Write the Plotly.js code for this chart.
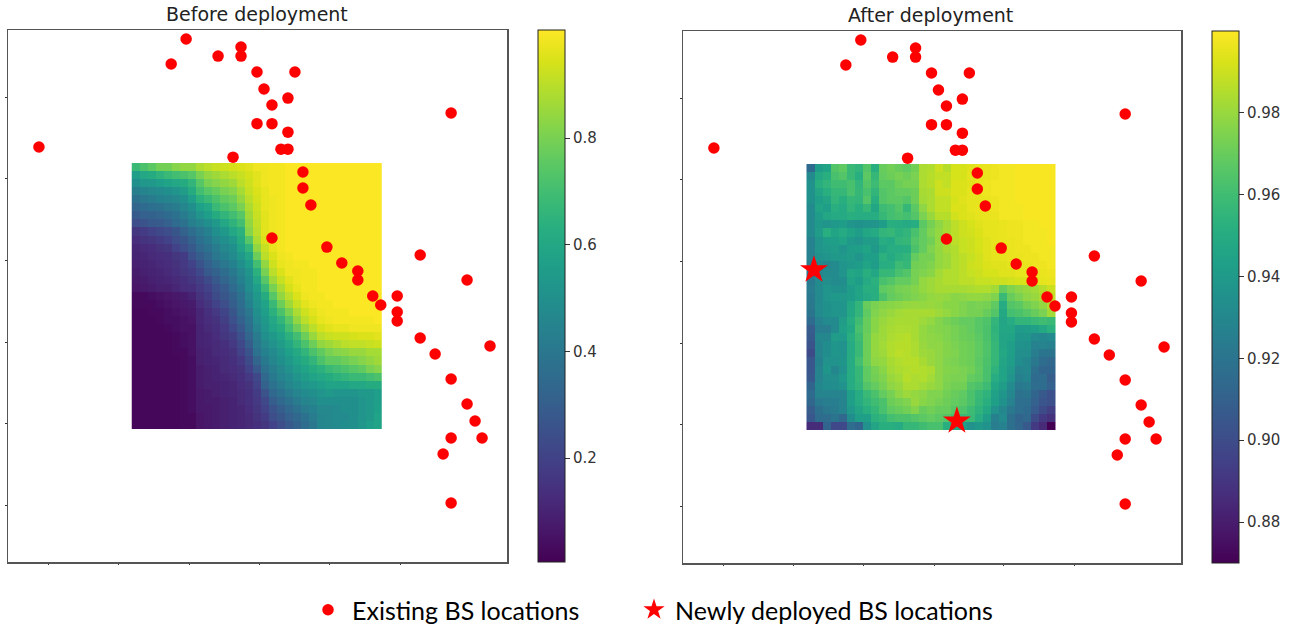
<!DOCTYPE html>
<html><head><meta charset="utf-8">
<script src="https://cdn.plot.ly/plotly-3.0.1.min.js"></script>
<style>html,body{margin:0;padding:0;background:#fff}#c{width:1302px;height:629px}</style></head>
<body><div id="c"></div>
<script>
const bsX=[62,357,327,421,467,467,499,575,513,529,561,499,529,561,547,561,451,888,591,591,607,529,639,669,701,701,731,747,780,780,780,826,920,826,856,966,888,920,936,950,888,872,888];
const bsY=[780,983,936,951,968,951,921,921,889,859,872,824,824,808,776,776,761,844,733,703,671,609,592,562,547,530,500,483,500,470,453,577,530,421,391,406,344,297,265,233,233,203,111];
const newX=[263,550];
const newY=[551,267];
const before=[
[.68,.72,.75,.79,.79,.82,.84,.84,.88,.90,.92,.93,.94,.95,.96,.98,.98,.99,.99,1,1,1,1,1,1,1,1,1,1,1,1],
[.56,.60,.62,.65,.68,.70,.72,.74,.80,.84,.86,.88,.90,.92,.94,.96,.98,.99,.99,1,1,1,1,1,1,1,1,1,1,1,1],
[.50,.53,.54,.56,.58,.60,.62,.66,.74,.80,.82,.84,.86,.90,.93,.96,.98,.99,.99,1,1,1,1,1,1,1,1,1,1,1,1],
[.43,.45,.47,.48,.50,.52,.55,.62,.70,.74,.77,.80,.82,.87,.92,.95,.97,.99,.99,1,1,1,1,1,1,1,1,1,1,1,1],
[.38,.40,.42,.44,.45,.47,.50,.56,.64,.68,.72,.76,.78,.84,.90,.94,.97,.98,.99,1,1,1,1,1,1,1,1,1,1,1,1],
[.33,.35,.37,.38,.40,.42,.46,.50,.57,.60,.68,.72,.75,.80,.88,.93,.97,.98,.99,1,1,1,1,1,1,1,1,1,1,1,1],
[.28,.31,.32,.33,.35,.38,.42,.46,.52,.56,.62,.66,.70,.74,.86,.92,.96,.98,.99,1,1,1,1,1,1,1,1,1,1,1,1],
[.24,.26,.28,.29,.31,.35,.38,.43,.46,.50,.54,.60,.65,.70,.84,.91,.96,.98,.99,1,1,1,1,1,1,1,1,1,1,1,1],
[.16,.18,.20,.22,.24,.27,.32,.36,.40,.44,.50,.54,.60,.64,.82,.90,.96,.98,.99,1,1,1,1,1,1,1,1,1,1,1,1],
[.13,.15,.16,.18,.20,.24,.27,.32,.37,.41,.46,.50,.54,.62,.74,.88,.95,.98,.99,1,1,1,1,1,1,1,1,1,1,1,1],
[.11,.12,.13,.15,.16,.20,.24,.28,.34,.38,.42,.47,.50,.58,.66,.84,.92,.97,.99,1,1,1,1,1,1,1,1,1,1,1,1],
[.10,.11,.12,.13,.14,.16,.18,.25,.30,.34,.40,.44,.48,.54,.60,.78,.90,.95,.98,.99,1,1,1,1,1,1,1,1,1,1,1],
[.09,.10,.11,.12,.13,.15,.17,.20,.26,.31,.36,.40,.44,.50,.56,.70,.84,.93,.97,.98,.99,.99,1,1,1,1,1,1,1,1,1],
[.08,.09,.10,.11,.12,.14,.16,.18,.22,.28,.32,.36,.41,.46,.52,.64,.80,.90,.95,.98,.98,.99,.99,1,1,1,1,1,1,1,1],
[.07,.08,.09,.10,.11,.12,.14,.16,.19,.23,.28,.33,.38,.44,.50,.60,.74,.86,.92,.96,.98,.99,.99,1,1,1,1,1,1,1,1],
[.06,.07,.08,.09,.09,.11,.13,.14,.17,.20,.25,.29,.35,.41,.49,.56,.68,.80,.88,.94,.97,.99,.99,1,1,1,1,1,1,1,1],
[.03,.03,.04,.05,.06,.07,.08,.10,.15,.18,.23,.27,.32,.38,.46,.54,.62,.74,.84,.90,.95,.98,.99,.99,1,1,1,1,1,1,1],
[.03,.03,.03,.04,.05,.06,.07,.08,.13,.16,.20,.24,.30,.36,.44,.52,.58,.68,.78,.86,.92,.96,.98,.99,.99,1,1,1,1,1,1],
[.02,.02,.03,.03,.04,.05,.06,.07,.11,.14,.17,.21,.27,.34,.40,.50,.56,.64,.72,.80,.88,.93,.96,.98,.99,.99,.99,1,1,1,1],
[.02,.02,.02,.03,.04,.04,.05,.06,.11,.13,.15,.19,.25,.31,.38,.48,.54,.60,.66,.74,.84,.90,.94,.97,.98,.99,.99,.99,.99,.99,1],
[.02,.02,.02,.02,.03,.04,.05,.05,.10,.12,.14,.17,.22,.28,.36,.45,.52,.58,.62,.70,.78,.85,.90,.94,.96,.97,.97,.98,.98,.98,.98],
[.02,.02,.02,.02,.02,.03,.04,.05,.10,.11,.13,.16,.19,.25,.33,.42,.50,.54,.58,.64,.70,.78,.85,.90,.92,.93,.93,.94,.95,.95,.96],
[.02,.02,.02,.02,.02,.03,.04,.05,.10,.11,.12,.14,.17,.22,.30,.40,.47,.51,.55,.60,.66,.72,.78,.84,.86,.88,.90,.91,.91,.92,.93],
[.02,.02,.02,.02,.02,.03,.03,.05,.09,.10,.12,.13,.15,.20,.26,.38,.44,.48,.52,.57,.61,.66,.72,.76,.80,.82,.83,.85,.85,.87,.87],
[.02,.02,.02,.02,.02,.02,.03,.04,.09,.10,.11,.12,.14,.17,.23,.33,.41,.46,.50,.54,.58,.62,.66,.72,.76,.76,.78,.80,.82,.84,.86],
[.02,.02,.02,.02,.02,.02,.03,.04,.08,.09,.10,.12,.13,.15,.20,.28,.38,.43,.47,.51,.55,.58,.62,.64,.68,.70,.72,.74,.76,.80,.82],
[.02,.02,.02,.02,.02,.02,.03,.04,.08,.09,.10,.11,.12,.14,.17,.22,.34,.41,.45,.48,.52,.55,.58,.60,.62,.64,.66,.68,.68,.70,.72],
[.02,.02,.02,.02,.02,.02,.03,.04,.08,.09,.09,.10,.11,.13,.15,.20,.32,.38,.42,.46,.49,.52,.54,.56,.58,.58,.58,.60,.60,.62,.62],
[.02,.02,.02,.02,.02,.02,.03,.04,.07,.08,.09,.10,.11,.12,.14,.18,.26,.34,.38,.42,.45,.48,.50,.52,.54,.52,.52,.52,.54,.54,.56],
[.02,.02,.02,.02,.02,.02,.03,.04,.07,.08,.08,.09,.10,.12,.14,.17,.22,.30,.34,.38,.42,.45,.47,.50,.50,.50,.50,.50,.52,.54,.56],
[.02,.02,.02,.02,.02,.02,.03,.04,.07,.07,.08,.09,.10,.11,.13,.16,.20,.26,.30,.34,.38,.42,.44,.47,.47,.48,.50,.50,.52,.54,.57],
[.02,.02,.02,.02,.02,.02,.03,.03,.06,.07,.08,.09,.10,.11,.12,.15,.18,.24,.27,.31,.34,.38,.42,.46,.47,.48,.48,.50,.52,.54,.58],
[.02,.02,.02,.02,.02,.02,.03,.03,.06,.07,.08,.09,.10,.11,.12,.14,.16,.20,.24,.28,.32,.36,.40,.46,.47,.48,.49,.50,.53,.56,.58]
];
const after=[
[.915,.942,.945,.965,.968,.958,.955,.965,.952,.970,.972,.970,.968,.972,.984,.985,.990,.986,.992,.992,.994,.995,.996,.997,.998,.998,.999,.999,.999,.999,.999],
[.932,.948,.952,.962,.965,.958,.952,.967,.957,.969,.971,.973,.971,.974,.984,.986,.988,.988,.992,.992,.995,.995,.996,.997,.998,.998,.999,.999,.999,.999,.999],
[.935,.952,.955,.960,.960,.962,.955,.965,.959,.967,.967,.971,.973,.973,.984,.986,.990,.988,.993,.993,.994,.996,.997,.998,.998,.998,.999,.999,.999,.999,.999],
[.935,.946,.952,.957,.957,.962,.957,.962,.955,.965,.967,.969,.969,.971,.983,.984,.990,.990,.993,.993,.995,.995,.997,.998,.998,.998,.999,.999,.999,.999,.999],
[.935,.943,.946,.955,.952,.957,.955,.965,.952,.965,.967,.967,.965,.971,.982,.984,.988,.988,.992,.994,.995,.995,.996,.997,.998,.998,.999,.999,.999,.999,.999],
[.932,.945,.943,.952,.949,.955,.952,.957,.947,.959,.961,.965,.957,.967,.978,.984,.988,.988,.993,.993,.995,.996,.996,.997,.998,.998,.998,.999,.999,.999,.999],
[.932,.942,.947,.949,.949,.952,.951,.951,.951,.957,.961,.963,.961,.965,.974,.980,.986,.986,.991,.993,.994,.995,.996,.996,.998,.998,.998,.999,.999,.999,.999],
[.932,.939,.937,.939,.942,.937,.935,.937,.937,.942,.952,.951,.949,.951,.967,.973,.978,.982,.987,.990,.992,.994,.995,.995,.996,.997,.997,.998,.998,.999,.999],
[.932,.941,.952,.945,.949,.945,.942,.947,.949,.955,.957,.953,.955,.962,.969,.975,.979,.983,.987,.990,.991,.993,.995,.995,.996,.997,.997,.998,.998,.998,.999],
[.927,.937,.942,.943,.945,.939,.937,.941,.941,.951,.949,.955,.957,.965,.969,.972,.979,.982,.987,.989,.990,.992,.994,.995,.996,.996,.997,.998,.998,.998,.999],
[.927,.937,.939,.941,.937,.942,.943,.945,.939,.947,.951,.951,.952,.963,.969,.975,.979,.983,.985,.989,.990,.992,.994,.995,.996,.996,.997,.997,.998,.998,.998],
[.927,.935,.937,.939,.939,.941,.937,.943,.943,.953,.949,.953,.955,.969,.973,.973,.979,.981,.985,.987,.989,.991,.994,.995,.995,.996,.996,.997,.997,.998,.998],
[.925,.932,.930,.932,.937,.939,.942,.945,.942,.951,.952,.959,.957,.972,.973,.975,.979,.981,.985,.987,.990,.991,.993,.994,.994,.995,.996,.996,.997,.997,.998],
[.920,.929,.932,.932,.937,.947,.945,.952,.947,.957,.957,.962,.965,.973,.975,.977,.982,.985,.985,.987,.989,.990,.992,.992,.994,.994,.995,.995,.996,.996,.997],
[.923,.932,.934,.932,.933,.945,.942,.949,.953,.962,.965,.969,.969,.973,.979,.981,.983,.985,.985,.987,.987,.989,.989,.990,.990,.991,.992,.993,.994,.995,.996],
[.925,.932,.937,.935,.935,.942,.945,.952,.952,.968,.970,.973,.974,.976,.979,.981,.983,.983,.983,.983,.984,.985,.985,.982,.970,.975,.978,.980,.982,.986,.990],
[.923,.932,.937,.939,.939,.942,.945,.949,.952,.963,.969,.971,.973,.975,.977,.979,.980,.979,.977,.978,.979,.979,.978,.975,.958,.970,.974,.978,.980,.984,.988],
[.922,.932,.935,.937,.937,.947,.955,.970,.974,.976,.977,.978,.979,.980,.979,.980,.979,.977,.977,.975,.973,.974,.973,.968,.950,.965,.967,.972,.975,.979,.985],
[.920,.932,.935,.937,.937,.948,.955,.968,.975,.978,.980,.982,.983,.983,.983,.983,.981,.979,.977,.975,.973,.973,.970,.965,.948,.961,.963,.966,.970,.974,.982],
[.915,.927,.932,.932,.941,.951,.960,.970,.977,.980,.982,.983,.983,.983,.981,.979,.976,.973,.971,.969,.969,.966,.964,.955,.946,.950,.955,.955,.958,.960,.958],
[.908,.925,.925,.932,.944,.948,.962,.970,.977,.981,.983,.984,.984,.983,.979,.977,.976,.975,.973,.971,.969,.966,.963,.954,.947,.947,.940,.942,.944,.948,.953],
[.906,.930,.930,.941,.940,.952,.960,.971,.979,.981,.984,.985,.986,.983,.979,.978,.977,.975,.973,.971,.970,.967,.963,.955,.946,.945,.938,.938,.932,.930,.932],
[.903,.928,.933,.938,.936,.950,.958,.971,.979,.982,.985,.986,.986,.984,.980,.978,.978,.976,.974,.972,.971,.968,.964,.957,.946,.943,.936,.935,.927,.928,.926],
[.900,.928,.933,.938,.936,.950,.958,.971,.979,.981,.985,.987,.986,.984,.981,.980,.978,.976,.975,.972,.971,.968,.964,.957,.948,.943,.934,.934,.925,.920,.920],
[.905,.926,.936,.936,.938,.950,.961,.971,.978,.979,.983,.985,.986,.986,.983,.980,.978,.975,.974,.972,.971,.967,.963,.957,.946,.942,.933,.930,.922,.916,.914],
[.905,.928,.938,.930,.936,.950,.957,.968,.973,.977,.982,.984,.985,.986,.985,.984,.978,.976,.975,.974,.972,.968,.962,.954,.945,.939,.928,.930,.918,.912,.912],
[.906,.928,.934,.934,.939,.950,.957,.968,.972,.975,.980,.982,.986,.984,.985,.982,.978,.975,.974,.974,.969,.967,.962,.951,.945,.937,.926,.929,.915,.916,.908],
[.912,.930,.933,.933,.936,.950,.955,.965,.969,.973,.978,.980,.984,.984,.982,.980,.978,.974,.972,.972,.965,.963,.959,.947,.942,.932,.922,.924,.916,.916,.910],
[.915,.928,.928,.928,.928,.943,.950,.958,.963,.969,.973,.978,.981,.979,.978,.975,.975,.972,.970,.968,.963,.958,.954,.944,.938,.930,.919,.920,.912,.906,.902],
[.913,.923,.925,.925,.928,.943,.950,.955,.960,.963,.971,.973,.975,.980,.977,.975,.973,.971,.969,.967,.963,.957,.952,.943,.935,.927,.917,.917,.910,.904,.902],
[.908,.918,.922,.924,.928,.939,.946,.952,.956,.962,.968,.970,.972,.976,.970,.972,.970,.970,.966,.964,.959,.954,.948,.936,.930,.922,.917,.915,.907,.900,.894],
[.905,.916,.916,.920,.914,.933,.943,.943,.953,.955,.961,.963,.963,.965,.967,.969,.967,.965,.961,.958,.958,.951,.942,.926,.932,.918,.912,.914,.900,.892,.888],
[.886,.886,.912,.898,.898,.916,.912,.936,.946,.952,.952,.950,.957,.957,.960,.962,.962,.952,.947,.942,.936,.939,.936,.925,.927,.918,.913,.906,.892,.885,.870]
];
const ticksBefore=[.2,.4,.6,.8];
const ticksAfter=[.88,.90,.92,.94,.96,.98];
const xTicks=[82,222,363,505,644,786];
const yTicks=[107,261,413,566,720,874];

const W=1302,H=629;
const cbCommon={thickness:27,thicknessmode:'pixels',len:532,lenmode:'pixels',xanchor:'left',yanchor:'middle',xpad:0,ypad:0,
  outlinecolor:'#222',outlinewidth:1,ticks:'outside',ticklen:5,tickwidth:1,tickcolor:'#333',
  tickfont:{family:'DejaVu Sans',size:15,color:'#333'}};
const hm=(z,xa,ya,zmin,zmax,cb)=>({type:'heatmap',z:z,x0:248+250/31,dx:500/31,y0:750-250/33,dy:-500/33,
  xaxis:xa,yaxis:ya,zmin:zmin,zmax:zmax,colorscale:'Viridis',hoverinfo:'skip',colorbar:cb,showlegend:false});
const dots=(xa,ya,show)=>({type:'scatter',mode:'markers',x:bsX,y:bsY,xaxis:xa,yaxis:ya,name:'Existing BS locations',
  showlegend:show,legend:'legend',marker:{color:'#ff0000',size:11.5,symbol:'circle'}});
const data=[
  hm(before,'x','y',.005,1.003,Object.assign({},cbCommon,{x:538/W,y:(H-296)/H,tickmode:'array',tickvals:ticksBefore,ticktext:ticksBefore.map(v=>v.toFixed(1))})),
  hm(after,'x2','y2',.87,1,Object.assign({},cbCommon,{x:1212/W,y:(H-297)/H,tickmode:'array',tickvals:ticksAfter,ticktext:ticksAfter.map(v=>v.toFixed(2))})),
  dots('x','y',true),
  dots('x2','y2',false),
  {type:'scatter',mode:'markers',x:newX,y:newY,xaxis:'x2',yaxis:'y2',name:'Newly deployed BS locations',legend:'legend2',
   marker:{color:'#ff0000',size:21,symbol:'star'}}
];
const ax=(dom,vals,anchor)=>({domain:dom,range:[0,1000],showgrid:false,zeroline:false,showline:true,mirror:true,linecolor:'#555',linewidth:1.5,
  ticks:'outside',ticklen:1.5,tickwidth:1,tickcolor:'#333',tickmode:'array',tickvals:vals,showticklabels:false,anchor:anchor,fixedrange:true});
const legendFont={family:'Lato',size:25,color:'#000'};
const layout={width:W,height:H,margin:{l:0,r:0,t:0,b:0,autoexpand:false},paper_bgcolor:'#fff',plot_bgcolor:'#fff',
  xaxis:ax([8/W,507/W],xTicks,'y'),yaxis:ax([(H-562)/H,(H-30)/H],yTicks,'x'),
  xaxis2:ax([683/W,1181/W],xTicks,'y2'),yaxis2:ax([(H-563)/H,(H-31)/H],yTicks,'x2'),
  legend:{orientation:'h',x:304/W,y:(H-610)/H,xanchor:'left',yanchor:'middle',bgcolor:'rgba(0,0,0,0)',font:legendFont,itemwidth:38,itemsizing:'trace'},
  legend2:{orientation:'h',x:633/W,y:(H-610)/H,xanchor:'left',yanchor:'middle',bgcolor:'rgba(0,0,0,0)',font:legendFont,itemwidth:32,itemsizing:'trace'},
  annotations:[
    {text:'Before deployment',xref:'paper',yref:'paper',x:257/W,y:(H-14)/H,showarrow:false,xanchor:'center',yanchor:'middle',font:{family:'DejaVu Sans',size:19,color:'#222'}},
    {text:'After deployment',xref:'paper',yref:'paper',x:930/W,y:(H-15)/H,showarrow:false,xanchor:'center',yanchor:'middle',font:{family:'DejaVu Sans',size:19,color:'#222'}}
  ]};
Plotly.newPlot('c',data,layout,{displayModeBar:false,staticPlot:true});
</script></body></html>
